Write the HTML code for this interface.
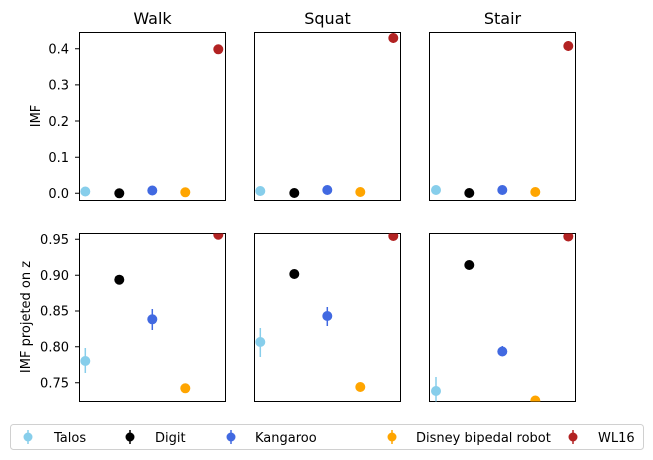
<!DOCTYPE html>
<html><head><meta charset="utf-8"><style>
html,body{margin:0;padding:0;background:#fff}
svg{display:block;font-family:"DejaVu Sans","Liberation Sans",sans-serif}
</style></head><body>
<svg width="653" height="460" viewBox="0 0 653 460" xmlns="http://www.w3.org/2000/svg">
<defs>
<clipPath id="c1"><rect x="79.5" y="32.5" width="146" height="168"/></clipPath>
<clipPath id="c2"><rect x="254.5" y="32.5" width="146" height="168"/></clipPath>
<clipPath id="c3"><rect x="429.5" y="32.5" width="146" height="168"/></clipPath>
<clipPath id="c4"><rect x="79.5" y="233.5" width="146" height="168"/></clipPath>
<clipPath id="c5"><rect x="254.5" y="233.5" width="146" height="168"/></clipPath>
<clipPath id="c6"><rect x="429.5" y="233.5" width="146" height="168"/></clipPath>
</defs>
<g font-size="16" text-anchor="middle" fill="#000">
<text x="152.5" y="24">Walk</text><text x="327.5" y="24">Squat</text><text x="502.5" y="24">Stair</text>
</g>
<g font-size="13" text-anchor="end">
<text x="69" y="53.5">0.4</text><text x="69" y="89.7">0.3</text><text x="69" y="125.8">0.2</text><text x="69" y="162">0.1</text><text x="69" y="198">0.0</text>
<text x="69" y="244">0.95</text><text x="69" y="280">0.90</text><text x="69" y="315.7">0.85</text><text x="69" y="351.5">0.80</text><text x="69" y="387.4">0.75</text>
</g>
<g stroke="#000" stroke-width="1">
<path d="M75 48.7h4.5M75 84.9h4.5M75 121h4.5M75 157.2h4.5M75 193.3h4.5M75 239.3h4.5M75 275.2h4.5M75 311h4.5M75 346.8h4.5M75 382.7h4.5"/>
</g>
<text x="40" y="116" font-size="13" text-anchor="middle" transform="rotate(-90 40 116)">IMF</text>
<text x="30" y="317" font-size="13" text-anchor="middle" transform="rotate(-90 30 317)">IMF projeted on z</text>
<g fill="none" stroke="#000" stroke-width="1">
<rect x="79.5" y="32.5" width="146" height="168"/><rect x="254.5" y="32.5" width="146" height="168"/><rect x="429.5" y="32.5" width="146" height="168"/>
<rect x="79.5" y="233.5" width="146" height="168"/><rect x="254.5" y="233.5" width="146" height="168"/><rect x="429.5" y="233.5" width="146" height="168"/>
</g>
<g clip-path="url(#c1)"><circle cx="85.3" cy="191.5" r="5" fill="#87ceeb"/><circle cx="119.3" cy="193.3" r="5" fill="#000"/><circle cx="152.3" cy="190.5" r="5" fill="#4169e1"/><circle cx="185.3" cy="192.3" r="5" fill="#ffa500"/><circle cx="218.3" cy="49.3" r="5" fill="#b22222"/></g>
<g clip-path="url(#c2)"><circle cx="260.3" cy="191" r="5" fill="#87ceeb"/><circle cx="294.3" cy="193" r="5" fill="#000"/><circle cx="327.3" cy="190" r="5" fill="#4169e1"/><circle cx="360.3" cy="192" r="5" fill="#ffa500"/><line x1="393.3" y1="33" x2="393.3" y2="43" stroke="#b22222" stroke-width="1.5"/><circle cx="393.3" cy="38" r="5" fill="#b22222"/></g>
<g clip-path="url(#c3)"><circle cx="436" cy="190" r="5" fill="#87ceeb"/><circle cx="469.3" cy="193" r="5" fill="#000"/><circle cx="502.3" cy="190" r="5" fill="#4169e1"/><circle cx="535.3" cy="192" r="5" fill="#ffa500"/><line x1="568.3" y1="41" x2="568.3" y2="51" stroke="#b22222" stroke-width="1.5"/><circle cx="568.3" cy="46" r="5" fill="#b22222"/></g>
<g clip-path="url(#c4)"><line x1="85.3" y1="348" x2="85.3" y2="373" stroke="#87ceeb" stroke-width="1.5"/><circle cx="85.3" cy="361" r="5" fill="#87ceeb"/><circle cx="119.3" cy="279.7" r="5" fill="#000"/><line x1="152.3" y1="309" x2="152.3" y2="330" stroke="#4169e1" stroke-width="1.5"/><circle cx="152.3" cy="319.3" r="5" fill="#4169e1"/><circle cx="185.3" cy="388.3" r="5" fill="#ffa500"/><circle cx="218.3" cy="234.7" r="5" fill="#b22222"/></g>
<g clip-path="url(#c5)"><line x1="260.3" y1="328" x2="260.3" y2="357" stroke="#87ceeb" stroke-width="1.5"/><circle cx="260.3" cy="342" r="5" fill="#87ceeb"/><circle cx="294.3" cy="274" r="5" fill="#000"/><line x1="327.3" y1="307" x2="327.3" y2="326" stroke="#4169e1" stroke-width="1.5"/><circle cx="327.3" cy="316" r="5" fill="#4169e1"/><circle cx="360.3" cy="387" r="5" fill="#ffa500"/><circle cx="393.3" cy="236" r="5" fill="#b22222"/></g>
<g clip-path="url(#c6)"><line x1="436" y1="377" x2="436" y2="402" stroke="#87ceeb" stroke-width="1.5"/><circle cx="436" cy="391" r="5" fill="#87ceeb"/><circle cx="469.3" cy="265" r="5" fill="#000"/><line x1="502.3" y1="346" x2="502.3" y2="356" stroke="#4169e1" stroke-width="1.5"/><circle cx="502.3" cy="351.5" r="5" fill="#4169e1"/><circle cx="535.3" cy="400.5" r="5" fill="#ffa500"/><circle cx="568.3" cy="236.5" r="5" fill="#b22222"/></g>
<rect x="10.5" y="424.5" width="633" height="25" rx="3" fill="#fff" stroke="#d0d0d0"/>
<g font-size="13">
<line x1="28" y1="430" x2="28" y2="444" stroke="#87ceeb" stroke-width="1.5"/><circle cx="28" cy="437" r="4.5" fill="#87ceeb"/><text x="54" y="442">Talos</text>
<line x1="130" y1="430" x2="130" y2="444" stroke="#000" stroke-width="1.5"/><circle cx="130" cy="437" r="4.5" fill="#000"/><text x="155" y="442">Digit</text>
<line x1="231" y1="430" x2="231" y2="444" stroke="#4169e1" stroke-width="1.5"/><circle cx="231" cy="437" r="4.5" fill="#4169e1"/><text x="255" y="442">Kangaroo</text>
<line x1="392" y1="430" x2="392" y2="444" stroke="#ffa500" stroke-width="1.5"/><circle cx="392" cy="437" r="4.5" fill="#ffa500"/><text x="416" y="442">Disney bipedal robot</text>
<line x1="573" y1="430" x2="573" y2="444" stroke="#b22222" stroke-width="1.5"/><circle cx="573" cy="437" r="4.5" fill="#b22222"/><text x="598" y="442">WL16</text>
</g>
</svg>
</body></html>
